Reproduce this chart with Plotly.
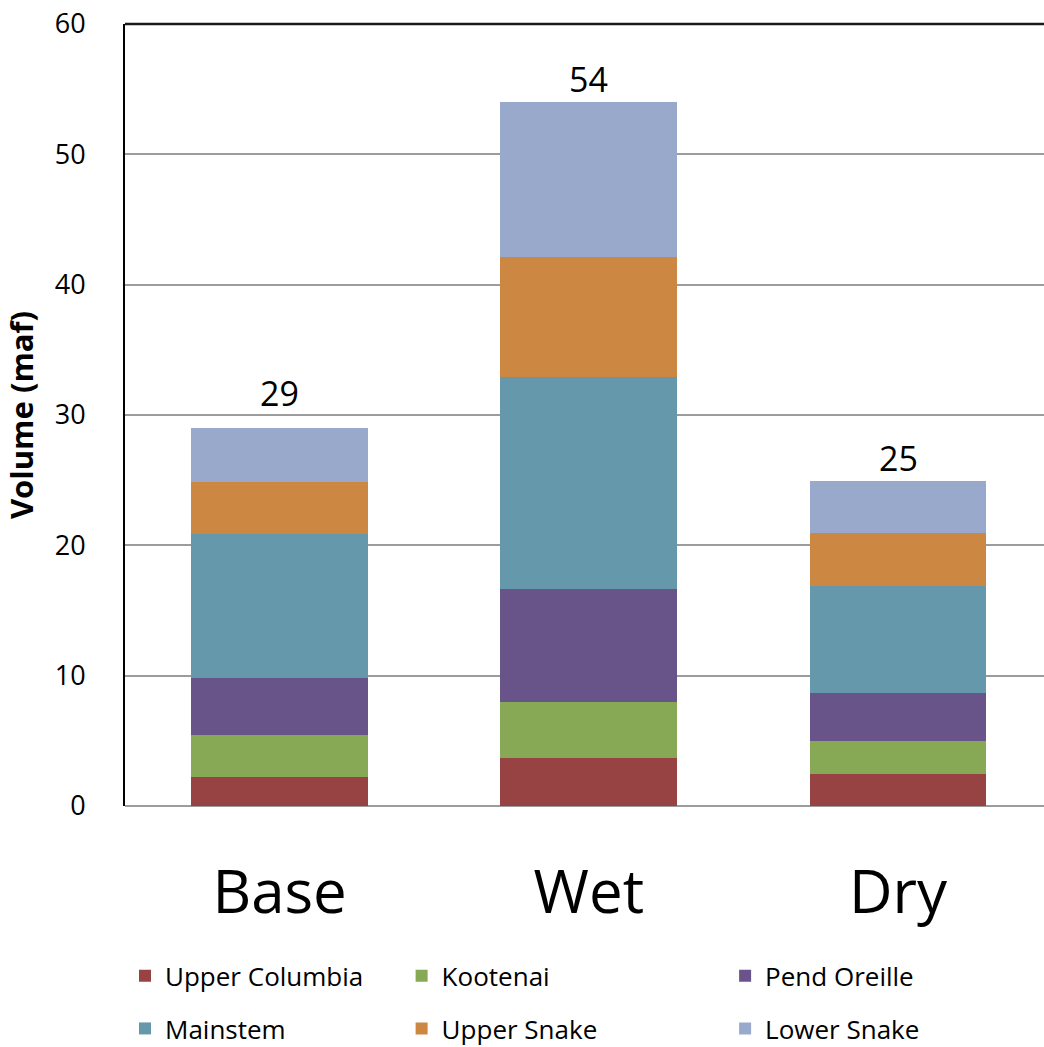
import plotly.graph_objects as go

# Water supply volumes by sub-basin for three scenarios (million acre-feet)
scenarios = ["Base", "Wet", "Dry"]
basins = ["Upper Columbia", "Kootenai", "Pend Oreille", "Mainstem", "Upper Snake", "Lower Snake"]
upper_columbia = [2.23, 3.68, 2.43]
kootenai = [3.22, 4.32, 2.53]
pend_oreille = [4.40, 8.68, 3.69]
mainstem = [11.00, 16.22, 8.26]
upper_snake = [4.04, 9.21, 4.07]
lower_snake = [4.10, 11.94, 3.99]
y_ticks = [0, 10, 20, 30, 40, 50, 60]

series = [upper_columbia, kootenai, pend_oreille, mainstem, upper_snake, lower_snake]
colors = ["#974343", "#87a854", "#685488", "#6498aa", "#cc8742", "#99a9cc"]
# legend column each basin sits in (two rows of three)
legend_ids = ["legend", "legend2", "legend3", "legend", "legend2", "legend3"]

FONT = "Open Sans"

fig = go.Figure()
for name, vals, col, lg in zip(basins, series, colors, legend_ids):
    fig.add_trace(go.Bar(
        x=scenarios, y=vals, name=name,
        marker=dict(color=col, line=dict(width=0)),
        width=0.572, legend=lg, legendgroup=name,
    ))

# total labels above each stack; the Base label sits a little higher
label_lift = {"Base": 12}
totals = [sum(v) for v in zip(*series)]
for cat, tot in zip(scenarios, totals):
    fig.add_annotation(
        x=cat, y=tot, text=f"{tot:.0f}", showarrow=False,
        yanchor="bottom", yshift=-2 + label_lift.get(cat, 0),
        font=dict(family=FONT, size=34, color="#000000"),
    )

legend_common = dict(
    orientation="v", xanchor="left", yanchor="top",
    traceorder="grouped", tracegroupgap=16,
    font=dict(family=FONT, size=26, color="#000000"),
    bgcolor="rgba(0,0,0,0)", borderwidth=0,
)

fig.update_layout(
    width=1044, height=1047,
    margin=dict(l=125, r=0, t=24, b=241, autoexpand=False),
    barmode="stack",
    paper_bgcolor="white", plot_bgcolor="white",
    font=dict(family=FONT, color="#000000"),
    showlegend=True,
    legend=dict(x=0.0, y=-0.187, **legend_common),
    legend2=dict(x=0.301, y=-0.187, **legend_common),
    legend3=dict(x=0.653, y=-0.187, **legend_common),
    xaxis=dict(
        range=[-0.5, 2.472], showgrid=False, showline=False, zeroline=False,
        ticks="", tickfont=dict(family=FONT, size=60, color="#000000"),
        ticklabelstandoff=46,
    ),
    yaxis=dict(
        range=[0, 60], tickvals=y_ticks, ticktext=[str(t) for t in y_ticks],
        showgrid=True, gridcolor="#9c9c9c", gridwidth=2,
        zeroline=True, zerolinecolor="#9c9c9c", zerolinewidth=2,
        showline=True, linecolor="#000000", linewidth=2,
        ticks="", ticklabelstandoff=32,
        tickfont=dict(family=FONT, size=27, color="#000000"),
        title=dict(text="<b>Volume (maf)</b>", standoff=12,
                   font=dict(family=FONT, size=31, color="#000000")),
    ),
    shapes=[dict(type="line", xref="paper", yref="paper", x0=0, x1=1, y0=1, y1=1,
                 line=dict(color="#1a1a1a", width=2.5))],
)

fig.write_html("out.html")
